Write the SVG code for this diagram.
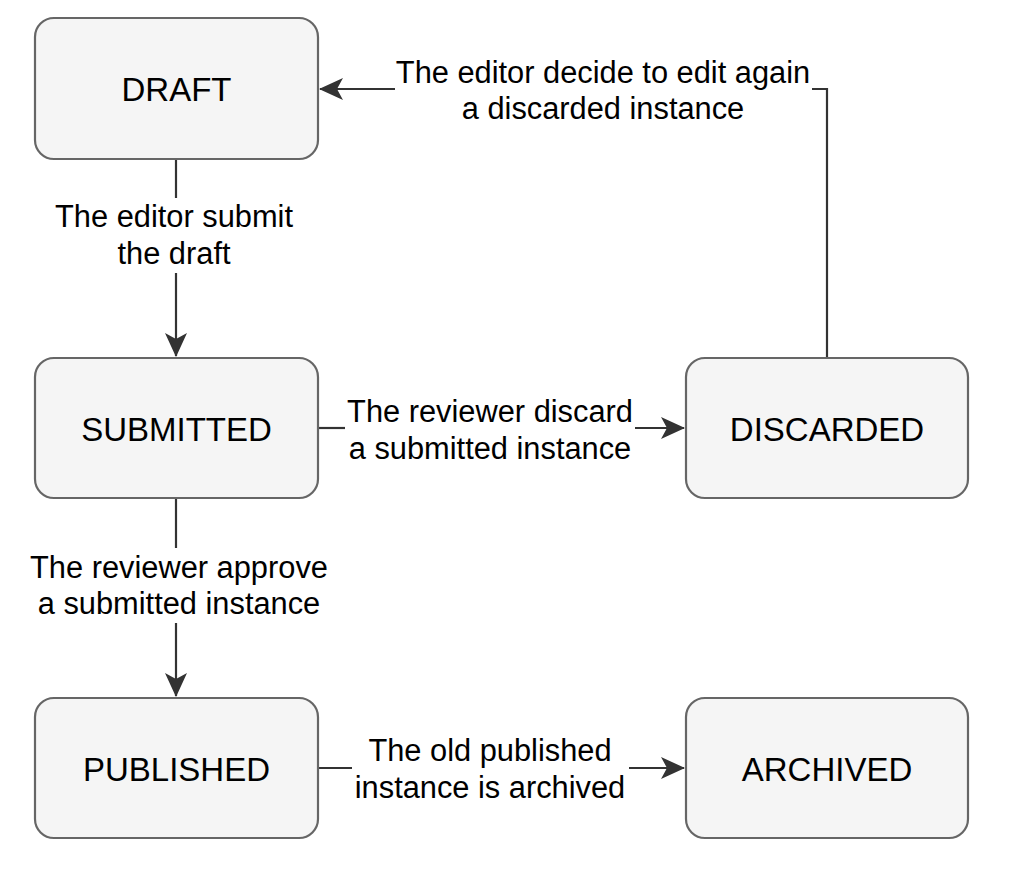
<svg xmlns="http://www.w3.org/2000/svg" width="1016" height="876" viewBox="0 0 1016 876">
<defs>
<style>
.node rect{fill:#f5f5f5;stroke:#666666;stroke-width:2.2}
.node text{font-family:"Liberation Sans",Arial,Helvetica,sans-serif;font-size:33px;fill:#000;text-anchor:middle}
.edge{fill:none;stroke:#333333;stroke-width:2.2}
.lbl{font-family:"Liberation Sans",Arial,Helvetica,sans-serif;font-size:30.8px;fill:#000;text-anchor:middle}
</style>
<marker id="arr" viewBox="0 0 24 22" refX="23" refY="11" markerWidth="24" markerHeight="22" markerUnits="userSpaceOnUse" orient="auto">
<path d="M0,0 L24,11 L0,22 L6,11 Z" fill="#333333"/>
</marker>
</defs>
<rect width="1016" height="876" fill="#ffffff"/>
<g id="connectors">
<g id="e-draft-submitted">
<path class="edge" d="M176,159 V198"/>
<path class="edge" d="M176,273 V356" marker-end="url(#arr)"/>
<text class="lbl" x="174" y="227">The editor submit</text>
<text class="lbl" x="174" y="264">the draft</text>
</g>
<g id="e-submitted-discarded">
<path class="edge" d="M318,428 H345"/>
<path class="edge" d="M635,428 H684" marker-end="url(#arr)"/>
<text class="lbl" x="490" y="422">The reviewer discard</text>
<text class="lbl" x="490" y="459">a submitted instance</text>
</g>
<g id="e-submitted-published">
<path class="edge" d="M176,498 V548"/>
<path class="edge" d="M176,623 V696" marker-end="url(#arr)"/>
<text class="lbl" x="179" y="578">The reviewer approve</text>
<text class="lbl" x="179" y="614">a submitted instance</text>
</g>
<g id="e-published-archived">
<path class="edge" d="M318,768 H352"/>
<path class="edge" d="M629,768 H684" marker-end="url(#arr)"/>
<text class="lbl" x="490" y="761">The old published</text>
<text class="lbl" x="490" y="798">instance is archived</text>
</g>
<g id="e-discarded-draft">
<path class="edge" d="M827,358 V89 H812"/>
<path class="edge" d="M395,89 H320" marker-end="url(#arr)"/>
<text class="lbl" x="603" y="83">The editor decide to edit again</text>
<text class="lbl" x="603" y="119">a discarded instance</text>
</g>
</g>
<g id="draft" class="node">
<rect x="35" y="18" width="283" height="141" rx="19"/>
<text x="176.5" y="101">DRAFT</text>
</g>
<g id="submitted" class="node">
<rect x="35" y="358" width="283" height="140" rx="19"/>
<text x="176.5" y="441">SUBMITTED</text>
</g>
<g id="discarded" class="node">
<rect x="686" y="358" width="282" height="140" rx="19"/>
<text x="827" y="441">DISCARDED</text>
</g>
<g id="published" class="node">
<rect x="35" y="698" width="283" height="140" rx="19"/>
<text x="176.5" y="781">PUBLISHED</text>
</g>
<g id="archived" class="node">
<rect x="686" y="698" width="282" height="140" rx="19"/>
<text x="827" y="781">ARCHIVED</text>
</g>
</svg>
